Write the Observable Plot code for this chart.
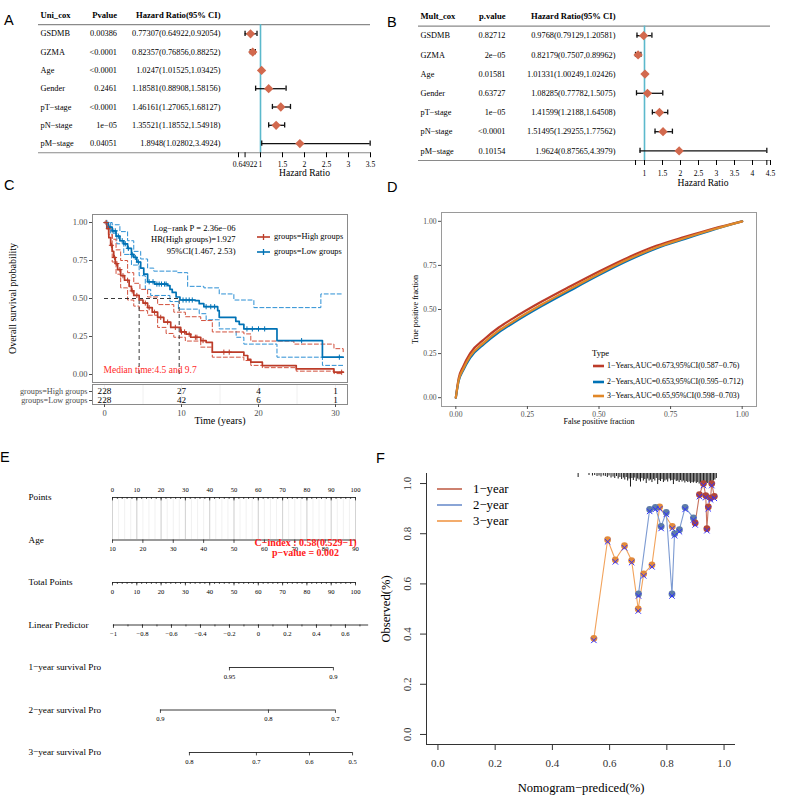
<!DOCTYPE html>
<html><head><meta charset="utf-8">
<script src="https://cdn.jsdelivr.net/npm/d3@7"></script>
<script src="https://cdn.jsdelivr.net/npm/@observablehq/plot@0.6"></script>
<style>
body{margin:0;background:#fff;}
#root{position:relative;width:800px;height:797px;overflow:hidden;background:#fff;}
</style></head><body><div id="root"></div>
<script>
// ---------------- DATA ----------------
// Panel A (univariate Cox)
const uniVars = ["GSDMB","GZMA","Age","Gender","pT−stage","pN−stage","pM−stage"];
const uniPvalue = ["0.00386","<0.0001","<0.0001","0.2461","<0.0001","1e−05","0.04051"];
const uniHR = [0.77307,0.82357,1.0247,1.18581,1.46161,1.35521,1.8948];
const uniLower = [0.64922,0.76856,1.01525,0.88908,1.27065,1.18552,1.02802];
const uniUpper = [0.92054,0.88252,1.03425,1.58156,1.68127,1.54918,3.4924];
const uniTicks = [0.5,0.64922,1,1.5,2,2.5,3,3.5];
const uniTickLabels = ["","0.64922","1","1.5","2","2.5","3","3.5"];
// Panel B (multivariate Cox)
const multVars = ["GSDMB","GZMA","Age","Gender","pT−stage","pN−stage","pM−stage"];
const multPvalue = ["0.82712","2e−05","0.01581","0.63727","1e−05","<0.0001","0.10154"];
const multHR = [0.9768,0.82179,1.01331,1.08285,1.41599,1.51495,1.9624];
const multLower = [0.79129,0.7507,1.00249,0.77782,1.2188,1.29255,0.87565];
const multUpper = [1.20581,0.89962,1.02426,1.5075,1.64508,1.77562,4.3979];
const multTicks = [0.7507,1,1.5,2,2.5,3,3.5,4,4.3979,4.5];
const multTickLabels = ["","1","1.5","2","2.5","3","3.5","4","","4.5"];

// Panel C (Kaplan-Meier)
const kmHighTime = [0,0.3,0.56,0.8,1.0,1.2,1.4,1.7,2.1,2.6,3.2,3.5,3.8,4.5,5.0,5.6,6.2,6.9,7.7,8.6,9.9,10.6,11.2,12.5,13.2,14.0,18.1,18.6,19.0,20.5,24.9,29.8,31];
const kmHighSurv = [1,0.96,0.90,0.85,0.81,0.77,0.73,0.69,0.65,0.62,0.58,0.55,0.52,0.49,0.47,0.44,0.41,0.376,0.345,0.31,0.28,0.265,0.245,0.223,0.212,0.147,0.125,0.10,0.081,0.059,0.037,0.015,0.015];
const kmHighUpTime = [0,0.5,1.0,1.5,2.1,3.0,3.8,4.6,5.6,6.9,9.0,10.5,12.5,14.0,18.1,19.0,24.6,29.8,31];
const kmHighUpSurv = [1,0.97,0.89,0.82,0.75,0.67,0.60,0.56,0.51,0.46,0.41,0.38,0.355,0.28,0.267,0.22,0.20,0.17,0.15];
const kmHighLoTime = [0,0.5,1.0,1.5,2.1,3.0,3.8,4.5,5.6,6.9,8.0,9.0,10.5,12.5,14.0,18.1,19.0,20.5,24.9,29.8,31];
const kmHighLoSurv = [1,0.92,0.74,0.66,0.57,0.49,0.45,0.42,0.39,0.31,0.27,0.245,0.22,0.18,0.114,0.092,0.06,0.045,0.022,0.006,0.006];
const kmLowTime = [0,0.5,1.0,1.5,2.0,2.5,3.0,3.5,3.8,4.2,4.7,5.1,5.6,6.5,8.2,8.5,8.8,9.3,9.8,11.8,12.3,12.9,14.7,14.9,17.05,17.5,18.1,22.4,28.3,31];
const kmLowSurv = [1,0.97,0.945,0.91,0.88,0.86,0.83,0.79,0.77,0.74,0.70,0.66,0.61,0.595,0.585,0.56,0.54,0.51,0.49,0.486,0.466,0.446,0.42,0.376,0.35,0.33,0.30,0.223,0.114,0.114];
const kmLowUpTime = [0,1.0,2.0,3.0,3.8,4.7,5.6,6.4,9.5,10.8,12.9,14.9,16.8,19.4,28.1,31];
const kmLowUpSurv = [1,0.985,0.94,0.88,0.81,0.76,0.70,0.68,0.67,0.58,0.57,0.53,0.49,0.44,0.53,0.53];
const kmLowLoTime = [0,0.8,1.6,2.5,3.5,4.5,5.3,6.0,8.5,9.6,12.3,13.2,14.9,17.1,18.1,22.4,28.3,31];
const kmLowLoSurv = [1,0.93,0.86,0.79,0.72,0.65,0.56,0.52,0.48,0.43,0.40,0.36,0.30,0.245,0.20,0.114,0.06,0.06];
const kmHighCensor = [0.2,0.5,0.9,1.3,1.6,2.0,2.4,3.0,3.6,4.2,5.3,5.8,6.5,7.3,8.2,9.2,10.0,10.4,11.0,11.8,12.0,12.8,15.5,16.2,30.8];
const kmLowCensor = [0.3,0.6,1.1,1.4,1.8,2.3,2.7,3.1,3.6,4.0,4.4,5.8,6.3,6.8,7.1,7.4,7.8,8.0,10.2,10.6,11.0,11.4,13.2,13.8,14.3,18.5,19.2,20.0,20.8,25.6,30.5];
const kmMedians = [4.5, 9.7];
const kmYTicks = [0,0.25,0.5,0.75,1];
const kmGroups = ["groups=High groups","groups=Low groups"];
const riskTimes = [0,10,20,30];
const riskHigh = [228,27,4,1];
const riskLow = [228,42,6,1];
const kmStats = ["Log−rank P = 2.36e−06","HR(High groups)=1.927","95%CI(1.467, 2.53)"];

// Panel D (time ROC)
const rocFPR = [0,0.01,0.025,0.05,0.1,0.15,0.2,0.3,0.4,0.5,0.6,0.7,0.8,0.9,1];
const roc1TPR = [0,0.110,0.175,0.252,0.333,0.398,0.450,0.545,0.632,0.716,0.794,0.861,0.912,0.959,1];
const roc2TPR = [0,0.094,0.152,0.226,0.306,0.371,0.423,0.519,0.608,0.695,0.776,0.846,0.900,0.952,1];
const roc3TPR = [0,0.100,0.160,0.235,0.315,0.380,0.432,0.528,0.617,0.703,0.783,0.852,0.905,0.955,1];
const rocNames = ["1−Years,AUC=0.673,95%CI(0.587−0.76)","2−Years,AUC=0.653,95%CI(0.595−0.712)","3−Years,AUC=0.65,95%CI(0.598−0.703)"];
const rocColors = ["#BC3C29","#0072B5","#E18727"];
const rocTicks = [0,0.25,0.5,0.75,1];

// Panel E (nomogram)
const nomoLabels = ["Points","Age","Total Points","Linear Predictor","1−year survival Pro","2−year survival Pro","3−year survival Pro"];
const pointsTicks = [0,10,20,30,40,50,60,70,80,90,100];
const ageTicks = [10,20,30,40,50,60,70,80,90];
const lpTicks = [-1,-0.8,-0.6,-0.4,-0.2,0,0.2,0.4,0.6];
const lpExtent = [-1,0.76];
const surv1Labels = ["0.95","0.9"];        const surv1LP = [-0.2,0.517];
const surv2Labels = ["0.9","0.8","0.7"];   const surv2LP = [-0.676,0.069,0.531];
const surv3Labels = ["0.8","0.7","0.6","0.5"]; const surv3LP = [-0.476,-0.014,0.352,0.649];
const cIndexText = "C−index : 0.58(0.529−1)";
const pValueText = "p−value = 0.002";

// Panel F (calibration)
const cal1Pred = [0.899,0.914,0.928,0.936,0.940,0.945,0.953,0.957,0.966];
const cal1Obs  = [0.843,0.956,1.0,0.952,0.82,0.907,0.943,1.0,0.949];
const cal2Pred = [0.701,0.740,0.760,0.780,0.798,0.818,0.827,0.844,0.864,0.893];
const cal2Obs  = [0.56,0.897,0.905,0.829,0.885,0.56,0.80,0.816,0.905,0.863];
const cal3Pred = [0.545,0.593,0.620,0.652,0.677,0.700,0.719,0.748,0.775,0.819];
const cal3Obs  = [0.383,0.776,0.696,0.752,0.693,0.50,0.64,0.676,0.907,0.829];
const calNames = ["1−year","2−year","3−year"];
const calLineColors = ["#c8735f","#7d9bd2","#f2a35c"];
const calDotColors = ["#b2463a","#5d7ca8","#e28a3c"];
const calTicks = [0,0.2,0.4,0.6,0.8,1];
const rugPred = [0.490,0.528,0.540,0.548,0.556,0.563,0.570,0.578,0.585,0.592,0.598,0.605,0.612,0.618,0.624,0.630,0.636,0.642,0.648,0.653,0.658,0.663,0.668,0.673,0.678,0.683,0.688,0.693,0.698,0.703,0.708,0.713,0.718,0.723,0.728,0.733,0.738,0.743,0.748,0.753,0.758,0.763,0.768,0.773,0.778,0.783,0.788,0.793,0.798,0.803,0.808,0.813,0.818,0.823,0.828,0.833,0.838,0.843,0.848,0.853,0.858,0.863,0.868,0.873,0.878,0.883,0.888,0.893,0.898,0.903,0.908,0.913,0.918,0.923,0.928,0.933,0.938,0.943,0.948,0.953,0.958,0.963,0.968,0.973];
const rugDepth = [0.016,0.008,0.010,0.008,0.012,0.010,0.014,0.010,0.012,0.016,0.010,0.018,0.014,0.020,0.012,0.022,0.016,0.024,0.018,0.026,0.016,0.030,0.022,0.054,0.020,0.028,0.018,0.032,0.022,0.026,0.034,0.020,0.030,0.024,0.040,0.022,0.030,0.026,0.036,0.024,0.030,0.020,0.044,0.028,0.032,0.024,0.036,0.030,0.026,0.034,0.022,0.030,0.028,0.044,0.026,0.032,0.030,0.036,0.028,0.034,0.030,0.038,0.032,0.036,0.034,0.040,0.036,0.038,0.034,0.040,0.036,0.042,0.038,0.040,0.036,0.042,0.038,0.040,0.036,0.038,0.034,0.030,0.026,0.020];

// ---------------- HELPERS ----------------
const serif = "'Liberation Serif','Times New Roman',serif";
const sans = "'Liberation Sans',Arial,sans-serif";
const root = document.getElementById("root");
function style(fs){ return {fontFamily: serif, fontSize: fs+"px", color:"#000", background:"transparent", overflow:"visible"}; }
function place(el, left, top){ el.style.position="absolute"; el.style.left=left+"px"; el.style.top=top+"px"; root.appendChild(el); return el; }
function addText(txt, x, y, o={}){
  const d = document.createElement("div");
  d.textContent = txt;
  const tx = o.anchor==="middle" ? "-50%" : o.anchor==="end" ? "-100%" : "0";
  Object.assign(d.style, {position:"absolute", left:x+"px", top:y+"px", whiteSpace:"nowrap",
    fontFamily:o.family||serif, fontSize:(o.size||9)+"px", lineHeight:"1", color:o.color||"#000",
    fontWeight:o.weight||"normal", transform:`translate(${tx},-50%)`});
  root.appendChild(d);
}
function addSwatch(x1, x2, y, color, w, plus){
  const ns="http://www.w3.org/2000/svg";
  const s=document.createElementNS(ns,"svg");
  s.setAttribute("width",x2-x1); s.setAttribute("height",10);
  Object.assign(s.style,{position:"absolute",left:x1+"px",top:(y-5)+"px",overflow:"visible"});
  const l=document.createElementNS(ns,"line");
  l.setAttribute("x1",0);l.setAttribute("x2",x2-x1);l.setAttribute("y1",5);l.setAttribute("y2",5);
  l.setAttribute("stroke",color);l.setAttribute("stroke-width",w);
  s.appendChild(l);
  if(plus){ const v=document.createElementNS(ns,"line"); const m=(x2-x1)/2;
    v.setAttribute("x1",m);v.setAttribute("x2",m);v.setAttribute("y1",2);v.setAttribute("y2",8);
    v.setAttribute("stroke",color);v.setAttribute("stroke-width",1.3); s.appendChild(v);}
  root.appendChild(s);
}
function stepAt(times, surv, t){ let v=surv[0]; for(let k=0;k<times.length;k++){ if(times[k]<=t) v=surv[k]; } return v; }
function series(xs, ys){ return xs.map((x,k)=>({x, y:ys[k]})); }

// ---------------- A & B: forest plots ----------------
function forest(o){
  const rows = o.vars.map((name,k)=>({i:k+1, name, p:o.p[k], hr:o.hr[k], lo:o.lo[k], hi:o.hi[k],
    txt:`${o.hr[k]}(${o.lo[k]},${o.hi[k]})`}));
  const bottom = o.y0 + 7.5*o.step;
  const labelOf = new Map(o.ticks.map((t,k)=>[t,o.tickLabels[k]]));
  const mid = (o.ticks[0]+o.ticks[o.ticks.length-1])/2;
  const cap = 2.6/o.step;
  return Plot.plot({
    width:400, height:o.height, marginLeft:o.lineL, marginRight:400-o.lineR, marginTop:0, marginBottom:o.height-bottom,
    x:{domain:o.xDomain, range:o.xRange, axis:null},
    y:{domain:[0,7], range:[o.y0, o.y0+7*o.step], axis:null},
    style: style(8.3),
    marks:[
      Plot.ruleY([0.5,7.5], {stroke:"#8a8a8a", strokeWidth:1.2}),
      Plot.ruleX([1], {y1:0.5, y2:7.5, stroke:"#5bb9cc", strokeWidth:1.6}),
      Plot.ruleY(rows, {y:"i", x1:"lo", x2:"hi", stroke:"#111", strokeWidth:1.3}),
      Plot.ruleX(rows, {x:"lo", y1:d=>d.i-cap, y2:d=>d.i+cap, stroke:"#111", strokeWidth:1.3}),
      Plot.ruleX(rows, {x:"hi", y1:d=>d.i-cap, y2:d=>d.i+cap, stroke:"#111", strokeWidth:1.3}),
      Plot.dot(rows, {x:"hr", y:"i", symbol:"diamond2", r:4.2, fill:"#d2694e", stroke:"none"}),
      Plot.text(rows, {y:"i", text:"name", frameAnchor:"left", dx:o.nameDx, textAnchor:"start"}),
      Plot.text(rows, {y:"i", text:"p", frameAnchor:"left", dx:o.pDx, textAnchor:"end"}),
      Plot.text(rows, {y:"i", text:"txt", frameAnchor:"left", dx:o.hrDx, textAnchor:"end"}),
      Plot.text([o.head[0]], {y:()=>0, frameAnchor:"left", dx:o.nameDx, textAnchor:"start", fontWeight:"bold", fontSize:8.6}),
      Plot.text([o.head[1]], {y:()=>0, frameAnchor:"left", dx:o.pDx, textAnchor:"end", fontWeight:"bold", fontSize:8.6}),
      Plot.text([o.head[2]], {y:()=>0, frameAnchor:"left", dx:o.hrDx, textAnchor:"end", fontWeight:"bold", fontSize:8.6}),
      Plot.axisX(o.ticks, {anchor:"bottom", tickSize:5, tickPadding:o.tickPad, tickFormat:d=>labelOf.get(d), fontSize:7.6, label:null}),
      Plot.text(["Hazard Ratio"], {x:()=>mid, frameAnchor:"bottom", dy:o.titleDy, fontSize:9.6})
    ]
  });
}
place(forest({vars:uniVars, p:uniPvalue, hr:uniHR, lo:uniLower, hi:uniUpper, ticks:uniTicks, tickLabels:uniTickLabels,
  head:["Uni_cox","Pvalue","Hazard Ratio(95% CI)"], height:185, lineL:38, lineR:370, xDomain:[1,3.5], xRange:[260,370],
  y0:15, step:18.3, nameDx:2, pDx:78.5, hrDx:182, tickPad:4, titleDy:23}), 0, 0);
place(forest({vars:multVars, p:multPvalue, hr:multHR, lo:multLower, hi:multUpper, ticks:multTicks, tickLabels:multTickLabels,
  head:["Mult_cox","p.value","Hazard Ratio(95% CI)"], height:195, lineL:18, lineR:370, xDomain:[1,4.5], xRange:[244,370],
  y0:16, step:19.2, nameDx:2, pDx:87, hrDx:197, tickPad:5, titleDy:25}), 400, 0);

// ---------------- C: Kaplan-Meier ----------------
const red="#BC3C29", blue="#0072B5";
const kmPlot = Plot.plot({
  width:400, height:184, marginLeft:92, marginRight:53, marginTop:14, marginBottom:2,
  x:{domain:[0,30], range:[104,335], axis:null},
  y:{domain:[0,1], range:[174,22], axis:null},
  style: style(8.5),
  marks:[
    Plot.frame({stroke:"#8a8a8a"}),
    Plot.axisY(kmYTicks, {anchor:"left", tickSize:3, tickPadding:2, tickFormat:d3.format(".2f"), fontSize:8.5, color:"#4d4d4d", label:null}),
    Plot.text(["Overall survival probability"], {frameAnchor:"left", dx:-80, rotate:-90, textAnchor:"middle", fontSize:10}),
    Plot.line(series(kmLowUpTime,kmLowUpSurv), {x:"x", y:"y", curve:"step-after", stroke:"#2b8fd4", strokeWidth:1, strokeDasharray:"4,2.5"}),
    Plot.line(series(kmLowLoTime,kmLowLoSurv), {x:"x", y:"y", curve:"step-after", stroke:"#2b8fd4", strokeWidth:1, strokeDasharray:"4,2.5"}),
    Plot.line(series(kmHighUpTime,kmHighUpSurv), {x:"x", y:"y", curve:"step-after", stroke:"#d2503c", strokeWidth:1, strokeDasharray:"4,2.5"}),
    Plot.line(series(kmHighLoTime,kmHighLoSurv), {x:"x", y:"y", curve:"step-after", stroke:"#d2503c", strokeWidth:1, strokeDasharray:"4,2.5"}),
    Plot.ruleY([0.5], {x1:0, x2:d3.max(kmMedians), stroke:"#222", strokeWidth:0.9, strokeDasharray:"4,3"}),
    Plot.ruleX(kmMedians, {y1:0, y2:0.5, stroke:"#222", strokeWidth:0.9, strokeDasharray:"4,3"}),
    Plot.line(series(kmLowTime,kmLowSurv), {x:"x", y:"y", curve:"step-after", stroke:blue, strokeWidth:1.7}),
    Plot.line(series(kmHighTime,kmHighSurv), {x:"x", y:"y", curve:"step-after", stroke:red, strokeWidth:1.7}),
    Plot.dot(kmLowCensor, {x:d=>d, y:d=>stepAt(kmLowTime,kmLowSurv,d), symbol:"plus", r:1.8, stroke:blue, strokeWidth:1}),
    Plot.dot(kmHighCensor, {x:d=>d, y:d=>stepAt(kmHighTime,kmHighSurv,d), symbol:"plus", r:1.8, stroke:red, strokeWidth:1}),
    Plot.text([kmStats[0]], {frameAnchor:"top-left", dx:143, dy:10, textAnchor:"end", fontSize:8.6}),
    Plot.text([kmStats[1]], {frameAnchor:"top-left", dx:143, dy:21.5, textAnchor:"end", fontSize:8.6}),
    Plot.text([kmStats[2]], {frameAnchor:"top-left", dx:143, dy:33, textAnchor:"end", fontSize:8.6}),
    Plot.text(["Median time:"+kmMedians[0]+" and "+kmMedians[1]], {frameAnchor:"bottom-left", dx:11, dy:-10, textAnchor:"start", fill:"#ff2a2a", fontSize:9.5})
  ]
});
place(kmPlot, 0, 200);
const riskRows = riskTimes.flatMap((t,k)=>[{t, g:kmGroups[0], n:riskHigh[k]},{t, g:kmGroups[1], n:riskLow[k]}]);
const riskPlot = Plot.plot({
  width:400, height:47, marginLeft:92, marginRight:53, marginTop:1, marginBottom:26,
  x:{domain:[0,30], range:[104,335], axis:null},
  y:{type:"point", domain:kmGroups, range:[7.5,16.5], padding:0, axis:null},
  style: style(8.5),
  marks:[
    Plot.ruleX([0,5,10,15,20,25,30], {stroke:"#ececec", strokeWidth:0.8}),
    Plot.frame({stroke:"#8a8a8a"}),
    Plot.text(riskRows, {x:"t", y:"g", text:"n", fontSize:9.2}),
    Plot.axisY({anchor:"left", tickSize:3, tickPadding:2, fontSize:8.2, color:"#4d4d4d", label:null}),
    Plot.axisX(riskTimes, {anchor:"bottom", tickSize:3, tickPadding:2, fontSize:8.5, color:"#4d4d4d", label:null}),
    Plot.text(["Time (years)"], {frameAnchor:"bottom", dy:19, fontSize:10})
  ]
});
place(riskPlot, 0, 383);
// KM legend
addSwatch(257,270,237,red,1.6,true); addText(kmGroups[0],274,237,{size:8.4});
addSwatch(257,270,252,blue,1.6,true); addText(kmGroups[1],274,252,{size:8.4});

// ---------------- D: ROC ----------------
const rocPlot = Plot.plot({
  width:400, height:230, marginLeft:41, marginRight:44, marginTop:12, marginBottom:24,
  x:{domain:[-0.05,1.05], axis:null}, y:{domain:[-0.05,1.05], axis:null},
  style: style(8),
  marks:[
    Plot.frame({stroke:"#9a9a9a"}),
    Plot.axisX(rocTicks, {anchor:"bottom", tickSize:3, tickPadding:2, tickFormat:d3.format(".2f"), fontSize:7.6, color:"#4d4d4d", label:null}),
    Plot.axisY(rocTicks, {anchor:"left", tickSize:3, tickPadding:2, tickFormat:d3.format(".2f"), fontSize:7.6, color:"#4d4d4d", label:null}),
    Plot.text(["False positive fraction"], {frameAnchor:"bottom", dy:17, fontSize:8}),
    Plot.text(["True positive fraction"], {frameAnchor:"left", dx:-26, rotate:-90, textAnchor:"middle", fontSize:8}),
    Plot.line(series(rocFPR,roc1TPR), {x:"x", y:"y", stroke:rocColors[0], strokeWidth:2.2, curve:"monotone-x"}),
    Plot.line(series(rocFPR,roc2TPR), {x:"x", y:"y", stroke:rocColors[1], strokeWidth:2.2, curve:"monotone-x"}),
    Plot.line(series(rocFPR,roc3TPR), {x:"x", y:"y", stroke:rocColors[2], strokeWidth:2.2, curve:"monotone-x"})
  ]
});
place(rocPlot, 400, 200);
addText("Type",592,353,{size:8.6});
[366,382,396].forEach((y,k)=>{ addSwatch(593,604,y,rocColors[k],2.6,false); addText(rocNames[k],607,y,{size:7.9}); });

// ---------------- E: nomogram ----------------
const ageToPts = a => (a-10)*1.25;           // Age 10 -> 0 points, 90 -> 100 points
const lpToPts = v => (v+1.0067)/0.01676;     // Linear predictor -> points position
const nomoLines = [
  {row:0, x1:0, x2:100}, {row:2, x1:0, x2:100},
  {row:3, x1:lpToPts(lpExtent[0]), x2:lpToPts(lpExtent[1])},
  {row:4, x1:lpToPts(d3.min(surv1LP)), x2:lpToPts(d3.max(surv1LP))},
  {row:5, x1:lpToPts(d3.min(surv2LP)), x2:lpToPts(d3.max(surv2LP))},
  {row:6, x1:lpToPts(d3.min(surv3LP)), x2:lpToPts(d3.max(surv3LP))}
];
const minorPts = d3.range(0,101,2);
const minorLP = d3.range(-1,0.76,0.1);
const nomoTicks = [
  ...minorPts.map(x=>({row:0,x,len:0.045})), ...pointsTicks.map(x=>({row:0,x,len:0.08})),
  ...ageTicks.map(a=>({row:1,x:ageToPts(a),len:0.08})),
  ...minorPts.map(x=>({row:2,x,len:0.045})), ...pointsTicks.map(x=>({row:2,x,len:0.08})),
  ...minorLP.map(v=>({row:3,x:lpToPts(v),len:0.045})), ...lpTicks.map(v=>({row:3,x:lpToPts(v),len:0.08})),
  ...surv1LP.map(v=>({row:4,x:lpToPts(v),len:0.08})),
  ...surv2LP.map(v=>({row:5,x:lpToPts(v),len:0.08})),
  ...surv3LP.map(v=>({row:6,x:lpToPts(v),len:0.08}))
];
const nomoBelow = [
  ...ageTicks.map(a=>({row:1,x:ageToPts(a),t:String(a)})),
  ...pointsTicks.map(x=>({row:2,x,t:String(x)})),
  ...lpTicks.map(v=>({row:3,x:lpToPts(v),t:String(+v.toFixed(1)).replace("-","−")})),
  ...surv1LP.map((v,k)=>({row:4,x:lpToPts(v),t:surv1Labels[k]})),
  ...surv2LP.map((v,k)=>({row:5,x:lpToPts(v),t:surv2Labels[k]})),
  ...surv3LP.map((v,k)=>({row:6,x:lpToPts(v),t:surv3Labels[k]}))
];
const nomoPlot = Plot.plot({
  width:380, height:320, marginLeft:0, marginRight:0, marginTop:0, marginBottom:0,
  x:{domain:[0,100], range:[112,355], axis:null},
  y:{domain:[0,6], range:[37,292], axis:null},
  style: style(6.6),
  marks:[
    Plot.ruleX(d3.range(10,91,2).map(ageToPts), {y1:0, y2:1, stroke:"#ededed", strokeWidth:0.8}),
    Plot.ruleX(pointsTicks, {y1:0, y2:1, stroke:"#d3d3d3", strokeWidth:1}),
    Plot.ruleY([1], {x1:ageToPts(10), x2:ageToPts(90), stroke:"#9a9a9a", strokeWidth:2}),
    Plot.ruleY(nomoLines, {y:"row", x1:"x1", x2:"x2", stroke:"#222", strokeWidth:0.9}),
    Plot.ruleX(nomoTicks, {x:"x", y1:"row", y2:d=>d.row+d.len, stroke:"#222", strokeWidth:0.8}),
    Plot.text(pointsTicks, {x:d=>d, y:()=>0, text:d=>String(d), dy:-8}),
    Plot.text(nomoBelow, {x:"x", y:"row", text:"t", dy:9}),
    Plot.text(nomoLabels, {y:(d,k)=>k, text:d=>d, frameAnchor:"left", dx:28, textAnchor:"start", fontSize:9.2}),
    Plot.text([cIndexText], {frameAnchor:"top-left", dx:305, dy:78, textAnchor:"middle", fill:"#ff1a1a", fontWeight:"bold", fontSize:10}),
    Plot.text([pValueText], {frameAnchor:"top-left", dx:305, dy:88.5, textAnchor:"middle", fill:"#ff1a1a", fontWeight:"bold", fontSize:10})
  ]
});
place(nomoPlot, 0, 460);

// ---------------- F: calibration ----------------
const calSets = [series(cal1Pred,cal1Obs), series(cal2Pred,cal2Obs), series(cal3Pred,cal3Obs)];
const rug = rugPred.map((p,k)=>({p, d:rugDepth[k]}));
const fx=[-0.04,1.04], fy=[-0.04,1.04];
const calMarks = [];
[2,1,0].forEach(k=>calMarks.push(Plot.line(calSets[k], {x:"x", y:"y", stroke:calLineColors[k], strokeWidth:1.1})));
[2,1,0].forEach(k=>calMarks.push(Plot.dot(calSets[k], {x:"x", y:"y", r:3.4, fill:calDotColors[k], stroke:"none"})));
[2,1,0].forEach(k=>calMarks.push(Plot.dot(calSets[k], {x:"x", y:"y", symbol:"times", r:2.6, stroke:"#2f2fff", strokeWidth:1, dy:2})));
const calPlot = Plot.plot({
  width:428, height:332, marginLeft:54, marginRight:65, marginTop:8, marginBottom:53,
  x:{domain:fx, axis:null}, y:{domain:fy, axis:null},
  style: style(11),
  marks:[
    Plot.ruleX([fx[0]], {stroke:"#333", strokeWidth:1}),
    Plot.ruleY([fy[0]], {stroke:"#333", strokeWidth:1}),
    Plot.axisX(calTicks, {anchor:"bottom", tickSize:6, tickPadding:9, tickFormat:d3.format(".1f"), fontSize:11, color:"#333", label:null}),
    Plot.axisY(calTicks, {anchor:"left", tickSize:6, tickFormat:()=>"", color:"#333", label:null}),
    Plot.text(calTicks, {y:d=>d, text:d3.format(".1f"), frameAnchor:"left", dx:-19, rotate:-90, textAnchor:"middle", fontSize:11, fill:"#333"}),
    Plot.text(["Nomogram−prediced(%)"], {frameAnchor:"bottom", dy:47, fontSize:12.6}),
    Plot.text(["Observed(%)"], {frameAnchor:"left", dx:-41, rotate:-90, textAnchor:"middle", fontSize:12.6}),
    Plot.ruleX(rug, {x:"p", y1:fy[1], y2:d=>fy[1]-d.d, stroke:"#000", strokeWidth:0.9}),
    ...calMarks
  ]
});
place(calPlot, 372, 465);
[489,505,521].forEach((y,k)=>{ addSwatch(437,462,y,calLineColors[k],1.8,false); addText(calNames[k],473,y,{size:12.8}); });

// ---------------- panel letters ----------------
[["A",4,20],["B",387,22],["C",4,185],["D",387,187],["E",0,457],["F",376,458]].forEach(([t,x,y])=>addText(t,x,y,{family:sans,size:14.5}));
</script></body></html>
